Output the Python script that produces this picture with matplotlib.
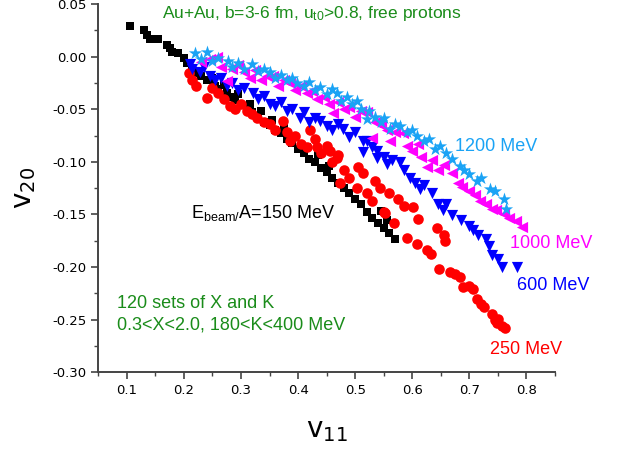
import numpy as np
import matplotlib
matplotlib.use('Agg')
import matplotlib.pyplot as plt
from matplotlib.ticker import MultipleLocator

plt.rcParams['font.family'] = ['Liberation Sans', 'DejaVu Sans']
plt.rcParams['mathtext.default'] = 'regular'

# v11, v20 pairs
pts150 = np.array([(0.105,0.029),(0.13,0.025),(0.135,0.021),(0.14,0.017),(0.155,0.017),(0.17,0.011),
    (0.175,0.008),(0.18,0.004),(0.19,0.003),(0.20,-0.001),(0.205,-0.006),(0.215,-0.012),(0.22,-0.016),
    (0.23,-0.018),(0.24,-0.022),(0.25,-0.020),(0.255,-0.028),(0.26,-0.031),(0.27,-0.027),(0.275,-0.035),
    (0.28,-0.038),(0.29,-0.041),(0.295,-0.036),(0.30,-0.046),(0.31,-0.050),(0.315,-0.045),(0.32,-0.053),
    (0.33,-0.057),(0.335,-0.052),(0.34,-0.062),(0.35,-0.065),(0.355,-0.060),(0.36,-0.070),(0.37,-0.073),
    (0.375,-0.068),(0.38,-0.078),(0.39,-0.082),(0.395,-0.076),(0.40,-0.088),(0.41,-0.092),(0.415,-0.086),
    (0.42,-0.097),(0.43,-0.100),(0.435,-0.094),(0.44,-0.106),(0.45,-0.110),(0.455,-0.104),(0.46,-0.115),
    (0.47,-0.120),(0.48,-0.125),(0.49,-0.130),(0.50,-0.135),(0.51,-0.140),(0.52,-0.148),(0.53,-0.153),
    (0.54,-0.158),(0.545,-0.147),(0.55,-0.163),(0.555,-0.155),(0.56,-0.168),(0.57,-0.173)])

pts250 = np.array([(0.209,-0.016),(0.215,-0.022),(0.222,-0.028),(0.24,-0.039),(0.25,-0.030),(0.26,-0.035),
    (0.27,-0.040),(0.28,-0.047),(0.29,-0.050),(0.30,-0.045),(0.31,-0.052),(0.32,-0.055),(0.328,-0.058),
    (0.34,-0.062),(0.351,-0.064),(0.36,-0.070),(0.374,-0.061),(0.38,-0.072),(0.386,-0.080),(0.395,-0.075),
    (0.405,-0.083),(0.416,-0.086),(0.421,-0.070),(0.43,-0.078),(0.433,-0.086),(0.44,-0.092),(0.45,-0.085),
    (0.456,-0.090),(0.46,-0.100),(0.468,-0.096),(0.47,-0.094),(0.474,-0.120),(0.48,-0.108),(0.49,-0.115),
    (0.503,-0.125),(0.505,-0.105),(0.514,-0.111),(0.52,-0.130),(0.53,-0.137),(0.535,-0.118),(0.544,-0.125),
    (0.55,-0.148),(0.553,-0.149),(0.56,-0.130),(0.568,-0.158),(0.575,-0.135),(0.585,-0.142),(0.59,-0.172),
    (0.602,-0.143),(0.61,-0.154),(0.609,-0.178),(0.626,-0.184),(0.632,-0.188),(0.644,-0.163),(0.646,-0.202),
    (0.655,-0.170),(0.658,-0.175),(0.667,-0.205),(0.675,-0.207),(0.684,-0.210),(0.689,-0.219),(0.70,-0.218),
    (0.707,-0.221),(0.714,-0.230),(0.72,-0.235),(0.725,-0.238),(0.74,-0.245),(0.745,-0.250),(0.748,-0.253),
    (0.75,-0.249),(0.758,-0.256),(0.763,-0.258)])

pts600 = np.array([(0.21,-0.007),(0.215,-0.012),(0.228,-0.015),(0.235,-0.010),(0.245,-0.018),(0.255,-0.022),
    (0.265,-0.020),(0.275,-0.028),(0.285,-0.025),(0.295,-0.032),(0.305,-0.030),(0.321,-0.035),(0.33,-0.040),
    (0.34,-0.037),(0.35,-0.045),(0.36,-0.047),(0.37,-0.043),(0.38,-0.052),(0.39,-0.050),(0.404,-0.058),
    (0.41,-0.053),(0.42,-0.062),(0.43,-0.058),(0.439,-0.061),(0.45,-0.066),(0.46,-0.070),(0.47,-0.064),
    (0.479,-0.069),(0.49,-0.076),(0.50,-0.072),(0.514,-0.080),(0.514,-0.091),(0.521,-0.080),(0.53,-0.086),
    (0.539,-0.090),(0.539,-0.096),(0.55,-0.095),(0.556,-0.102),(0.565,-0.098),(0.579,-0.100),(0.585,-0.108),
    (0.596,-0.115),(0.605,-0.120),(0.614,-0.126),(0.62,-0.122),(0.635,-0.130),(0.645,-0.140),(0.654,-0.146),
    (0.66,-0.140),(0.67,-0.151),(0.685,-0.155),(0.70,-0.161),(0.707,-0.165),(0.715,-0.170),(0.73,-0.173),
    (0.735,-0.180),(0.74,-0.189),(0.75,-0.192),(0.758,-0.200),(0.784,-0.200)])

pts1000 = np.array([(0.23,-0.005),(0.245,-0.002),(0.258,0.000),(0.265,-0.010),(0.276,-0.023),(0.285,-0.012),
    (0.295,-0.008),(0.305,-0.015),(0.315,-0.020),(0.325,-0.013),(0.335,-0.022),(0.345,-0.018),(0.356,-0.018),
    (0.365,-0.028),(0.375,-0.022),(0.386,-0.025),(0.395,-0.032),(0.405,-0.028),(0.415,-0.035),(0.425,-0.033),
    (0.433,-0.040),(0.445,-0.038),(0.455,-0.045),(0.461,-0.054),(0.47,-0.043),(0.48,-0.050),(0.49,-0.048),
    (0.50,-0.057),(0.51,-0.052),(0.521,-0.053),(0.53,-0.077),(0.535,-0.062),(0.545,-0.065),(0.555,-0.070),
    (0.561,-0.080),(0.57,-0.072),(0.584,-0.073),(0.59,-0.085),(0.60,-0.090),(0.61,-0.083),(0.615,-0.095),
    (0.626,-0.105),(0.635,-0.098),(0.645,-0.108),(0.655,-0.103),(0.67,-0.111),(0.68,-0.120),(0.688,-0.124),
    (0.70,-0.128),(0.71,-0.132),(0.718,-0.137),(0.73,-0.140),(0.74,-0.145),(0.747,-0.146),(0.76,-0.150),
    (0.77,-0.153),(0.782,-0.156),(0.793,-0.162)])

pts1200 = np.array([(0.219,0.003),(0.23,-0.002),(0.24,0.004),(0.25,-0.004),(0.26,-0.001),(0.277,-0.004),
    (0.285,-0.010),(0.295,-0.006),(0.305,-0.012),(0.319,-0.007),(0.33,-0.014),(0.34,-0.012),(0.351,-0.015),
    (0.36,-0.020),(0.37,-0.017),(0.38,-0.022),(0.39,-0.020),(0.398,-0.025),(0.41,-0.028),(0.42,-0.024),
    (0.43,-0.032),(0.439,-0.029),(0.45,-0.036),(0.46,-0.031),(0.468,-0.035),(0.475,-0.042),(0.485,-0.038),
    (0.495,-0.045),(0.503,-0.042),(0.51,-0.050),(0.521,-0.059),(0.525,-0.052),(0.535,-0.057),(0.545,-0.062),
    (0.55,-0.058),(0.561,-0.069),(0.57,-0.064),(0.579,-0.066),(0.59,-0.072),(0.60,-0.070),(0.609,-0.075),
    (0.62,-0.080),(0.63,-0.078),(0.64,-0.088),(0.649,-0.085),(0.66,-0.092),(0.67,-0.097),(0.684,-0.104),
    (0.69,-0.108),(0.70,-0.112),(0.714,-0.118),(0.72,-0.115),(0.737,-0.126),(0.745,-0.128),(0.76,-0.135),
    (0.765,-0.145)])

xticks = [0.1, 0.2, 0.3, 0.4, 0.5, 0.6, 0.7, 0.8]
yticks = [0.05, 0.0, -0.05, -0.10, -0.15, -0.20, -0.25, -0.30]
ytick_labels = ['0.05', '0.00', '-0.05', '-0.10', '-0.15', '-0.20', '-0.25', '-0.30']

green = '#1a8c1a'
skyblue = '#1aa3f5'

fig = plt.figure(figsize=(6.18, 4.5), dpi=100)
ax = fig.add_axes([0.159, 0.173, 0.739, 0.818])

ax.scatter(pts150[:,0], pts150[:,1], marker='s', s=40, c='black', linewidths=0, zorder=2)
ax.scatter(pts250[:,0], pts250[:,1], marker='o', s=58, c='red', linewidths=0, zorder=3)
ax.scatter(pts600[:,0], pts600[:,1], marker='v', s=65, c='#0000ff', linewidths=0, zorder=4)
ax.scatter(pts1000[:,0], pts1000[:,1], marker='<', s=65, c='#ff00ff', linewidths=0, zorder=5)
ax.scatter(pts1200[:,0], pts1200[:,1], marker='*', s=100, c=skyblue, linewidths=0, zorder=6)

ax.set_xlim(0.05, 0.85)
ax.set_ylim(-0.30, 0.05)
ax.xaxis.set_minor_locator(MultipleLocator(0.05))
ax.yaxis.set_minor_locator(MultipleLocator(0.025))
ax.set_xticks(xticks)
ax.set_xticklabels([str(v) for v in xticks], family='DejaVu Sans')
ax.set_yticks(yticks)
ax.set_yticklabels(ytick_labels, family='DejaVu Sans')

for s in ['top', 'right']:
    ax.spines[s].set_visible(False)
for s in ['left', 'bottom']:
    ax.spines[s].set_color('#444444')
    ax.spines[s].set_linewidth(1.4)
ax.tick_params(which='major', direction='out', length=5, width=1.2, color='#444444', labelsize=9.5)
ax.tick_params(which='minor', direction='out', length=3, width=1.0, color='#444444')

ax.set_xlabel('v$_{11}$', fontsize=20, labelpad=14, family='DejaVu Sans')
ax.set_ylabel('v$_{20}$', fontsize=20, labelpad=10, family='DejaVu Sans')

ax.text(0.424, 0.041, 'Au+Au, b=3-6 fm, u$_{t0}$>0.8, free protons',
        ha='center', va='center', color=green, fontsize=12.5)
ax.text(0.083, -0.235, '120 sets of X and K', color=green, fontsize=13, va='center')
ax.text(0.083, -0.255, '0.3<X<2.0, 180<K<400 MeV', color=green, fontsize=13, va='center')
ax.text(0.213, -0.149, 'E$_{beam/}$A=150 MeV', color='black', fontsize=13, va='center')
ax.text(0.675, -0.085, '1200 MeV', color=skyblue, fontsize=13, va='center')
ax.text(0.771, -0.178, '1000 MeV', color='#ff00ff', fontsize=13, va='center')
ax.text(0.783, -0.218, '600 MeV', color='#0000ff', fontsize=13, va='center')
ax.text(0.736, -0.278, '250 MeV', color='red', fontsize=13, va='center')

fig.savefig('out.png', dpi=100)
